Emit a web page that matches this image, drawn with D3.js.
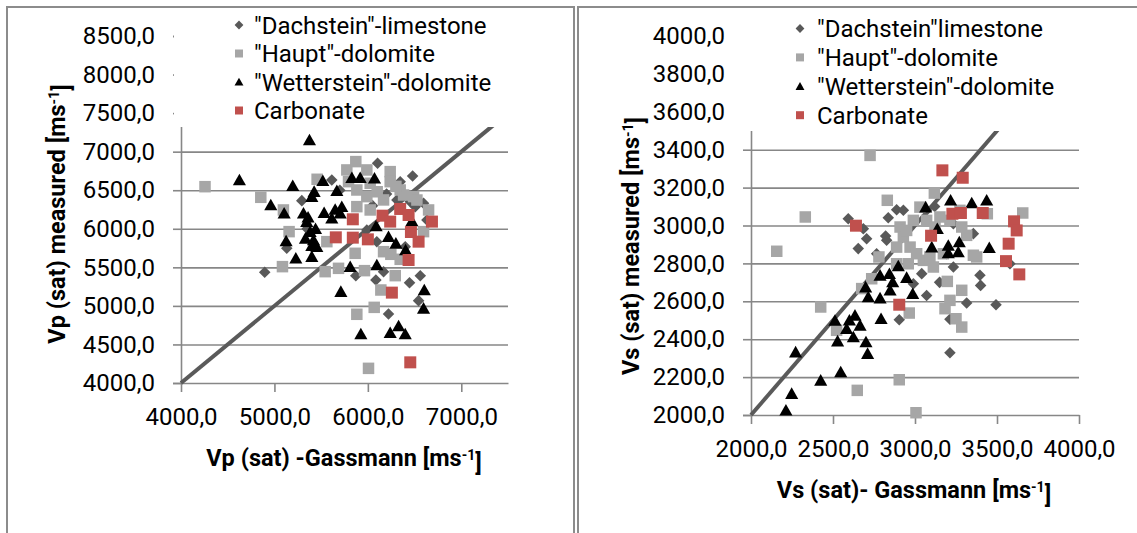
<html>
<script src='https://d3js.org/d3.v7.min.js'></script>
<style>
body {margin:0; background:white;}
text {font-family: Roboto, "Open Sans", sans-serif; fill:#000;}
</style>
<body>
<svg width=1137 height=533></svg>
<script>
// ---- data ----
const seriesNames = ['"Dachstein"-limestone', '"Haupt"-dolomite', '"Wetterstein"-dolomite', 'Carbonate'];
const seriesNamesVs = ['"Dachstein"limestone', '"Haupt"-dolomite', '"Wetterstein"-dolomite', 'Carbonate'];

const vpDach = [[4896,5435],[5293,6365],[5132,5747],[5871,5392],[6086,5336],[6221,4895],[6446,5301],[6561,5392],
  [6543,5068],[6479,6685],[6104,6849],[6346,6611],[6596,6330],[6454,6352],[6168,5444],[6400,5768],[6632,6114],
  [6096,5833],[5614,6633],[5989,5984],[6311,6374],[6507,6287],[5350,6000],[5700,6500],[6200,6450],[6050,6300]];
const vpHaupt = [[4257,6546],[4854,6408],[5096,6244],[5157,5963],[5086,5509],[5457,6642],[5543,5444],[5686,5487],
  [5882,4891],[5964,5457],[6068,4981],[6007,4190],[6139,5206],[6293,5392],[6168,5703],[6246,5669],[6346,5604],
  [5561,5833],[5864,5682],[5775,6763],[5871,6871],[5989,6763],[5793,6611],[5882,6503],[5989,6417],[6025,6590],
  [6239,6741],[6239,6611],[6346,6503],[6382,6438],[6489,6417],[6525,6373],[6650,6244],[6596,5963],[6168,6374],
  [6025,6244],[5882,6287],[6300,6550],[6100,6480]];
const vpWett = [[5375,7152],[4625,6633],[4961,6309],[5104,6201],[5196,6559],[5125,5842],[5229,5617],[5400,5639],
  [5311,6201],[5346,6093],[5382,5963],[5418,5855],[5454,5768],[5400,6417],[5425,6482],[5532,6209],[5518,6624],
  [5668,6494],[5721,6287],[5704,6201],[5614,6136],[5332,5876],[5829,6663],[5918,6663],[6071,6655],[5811,5509],
  [5711,5185],[6096,5530],[6089,6036],[6221,5898],[6300,5811],[6404,5725],[6471,6101],[6604,5206],[6596,4968],
  [5925,4636],[6239,4653],[6329,4739],[6400,4636],[5360,6150],[5440,6000],[5650,6250],[5400,5780]];
const vpCarb = [[5839,6123],[5657,5889],[5839,5885],[6000,5863],[6157,6170],[6239,6093],[6346,6257],[6436,6179],
  [6686,6093],[6461,5958],[6543,5833],[6436,5595],[6257,5172],[6454,4268]];

const vsDach = [[2593,3036],[2685,2983],[2705,2930],[2654,2878],[2821,2944],[2837,3041],[2888,3083],[2929,3080],
  [3213,2329],[3494,2582],[3315,2591],[3396,2737],[3400,2684],[3356,2957],[3071,2631],[2904,2503],[2990,2693],
  [3234,2781],[3193,2851],[3234,3009],[3071,3080],[3041,2746],[3213,2505],[3579,2798],[2766,2851],[2827,2922],
  [3120,3100],[3150,2700]];
const vsHaupt = [[2726,3370],[2331,3045],[2157,2864],[2425,2570],[2831,3133],[3118,3171],[2904,2186],[2648,2130],
  [3006,2012],[3657,3066],[3441,3062],[3285,2658],[3285,2464],[3250,2508],[3197,2705],[3183,2561],[3213,2605],
  [2965,2538],[2736,2719],[2675,2667],[2522,2447],[2780,2834],[2909,2992],[2929,2939],[2990,3027],[2970,2886],
  [3010,2851],[3051,2816],[3091,2834],[3112,2781],[3030,3097],[3071,3027],[3152,3045],[3213,3027],[3285,2992],
  [3315,2948],[3356,2843],[3376,2834],[2888,2886],[2959,2798],[2888,2798],[3173,2851],[3122,2992],[3274,3080],
  [2949,2974]];
const vsWett = [[2213,2025],[2248,2113],[2272,2332],[2425,2183],[2547,2227],[2512,2499],[2528,2390],[2583,2455],
  [2624,2412],[2634,2526],[2665,2473],[2701,2385],[2711,2324],[2600,2500],[2793,2508],[2699,2675],[2715,2623],
  [2787,2617],[2848,2658],[2864,2702],[2787,2737],[2844,2746],[2898,2786],[2949,2725],[2986,2640],[3065,3097],
  [3217,3133],[3346,3119],[3437,3133],[3136,2983],[3102,2886],[3203,2895],[3270,2913],[3264,2860],[3203,2855],
  [3453,2883]];
const vsCarb = [[3167,3291],[3291,3252],[2640,2999],[3098,2946],[3228,3062],[3280,3066],[3413,3066],[3604,3022],
  [3620,2974],[3571,2904],[3555,2812],[3636,2742],[2904,2582]];

const vpXTicks = [4000, 5000, 6000, 7000];
const vpYTicks = [4000, 4500, 5000, 5500, 6000, 6500, 7000, 7500, 8000, 8500];
const vsXTicks = [2000, 2500, 3000, 3500, 4000];
const vsYTicks = [2000, 2200, 2400, 2600, 2800, 3000, 3200, 3400, 3600, 3800, 4000];

// ---- drawing ----
const svg = d3.select('svg');
const fmt = v => d3.format('.1f')(v).replace('.', ',');
const colors = ['#595959', '#a6a6a6', '#000000', '#c0504d'];
const shapes = ['diamond', 'square', 'triangle', 'square'];
const ptSize = [10.5, 11.5, 12.5, 12];

function marker(shape, s) {
  const h = s / 2;
  if (shape == 'diamond') return `M0,${-h*1.1}L${h*1.1},0L0,${h*1.1}L${-h*1.1},0Z`;
  if (shape == 'triangle') return `M0,${-h}L${h*1.05},${h*0.85}L${-h*1.05},${h*0.85}Z`;
  return `M${-h},${-h}H${h}V${h}H${-h}Z`;
}

// panel frames
svg.append('path').attr('d', 'M7,533V7H574V533').attr('fill', 'none').attr('stroke', '#8c8c8c').attr('stroke-width', 2);
svg.append('path').attr('d', 'M578,533V7H1140').attr('fill', 'none').attr('stroke', '#8c8c8c').attr('stroke-width', 2);

function panel(cfg) {
  const x = d3.scaleLinear(cfg.xDomain, cfg.xRange);
  const y = d3.scaleLinear(cfg.yDomain, cfg.yRange);
  const g = svg.append('g');
  const w = cfg.xRange[1] - cfg.xRange[0];

  // gridlines
  g.append('g').attr('transform', `translate(${cfg.xRange[0]},0)`)
    .call(d3.axisLeft(y).tickValues(cfg.yTicks.slice(1)).tickSize(-w).tickFormat(''))
    .call(a => a.select('.domain').remove())
    .selectAll('line').attr('stroke', '#878787').attr('stroke-width', 1.6);

  // axes
  g.append('g').attr('transform', `translate(${cfg.xRange[0]},0)`)
    .call(d3.axisLeft(y).tickValues(cfg.yTicks).tickSize(8).tickPadding(18).tickFormat(fmt))
    .call(a => a.selectAll('line,path').attr('stroke', '#878787').attr('stroke-width', 1.6))
    .selectAll('text').style('font-size', '24px').attr('fill', '#000');
  g.append('g').attr('transform', `translate(0,${cfg.yRange[0]})`)
    .call(d3.axisBottom(x).tickValues(cfg.xTicks).tickSize(9).tickPadding(16).tickSizeOuter(0).tickFormat(fmt))
    .call(a => a.selectAll('line,path').attr('stroke', '#878787').attr('stroke-width', 1.6))
    .selectAll('text').style('font-size', '24px').attr('fill', '#000');

  // 1:1 line
  g.append('line')
    .attr('x1', x(cfg.xDomain[0])).attr('y1', y(cfg.xDomain[0]))
    .attr('x2', x(cfg.xDomain[1])).attr('y2', y(cfg.xDomain[1]))
    .attr('stroke', '#5a5a5a').attr('stroke-width', 4);

  // points
  cfg.series.forEach((pts, i) => {
    g.append('g').selectAll('path').data(pts).enter().append('path')
      .attr('d', marker(shapes[i], ptSize[i]))
      .attr('transform', d => `translate(${x(d[0])},${y(d[1])})`)
      .attr('fill', colors[i]);
  });

  // legend box covers the top of the plot
  g.append('rect').attr('x', cfg.legend.x0).attr('y', 9)
    .attr('width', cfg.xRange[1] + 4 - cfg.legend.x0).attr('height', cfg.legend.bottom - 9).attr('fill', 'white');
  cfg.names.forEach((n, i) => {
    const ly = cfg.legend.top + i * cfg.legend.step;
    g.append('path').attr('d', marker(shapes[i], i == 2 ? 8.5 : 8))
      .attr('transform', `translate(${cfg.legend.mx},${ly})`).attr('fill', colors[i]);
    g.append('text').attr('x', cfg.legend.tx).attr('y', ly).attr('dy', '0.36em')
      .style('font-size', '24px').text(n);
  });

  // axis titles
  const xt = g.append('text').attr('x', cfg.xTitle[0]).attr('y', cfg.xTitle[1]).attr('dy', '0.36em')
    .attr('text-anchor', 'middle').style('font-size', '23.5px').style('font-weight', 'bold');
  xt.append('tspan').text(cfg.xLabel + ' [ms');
  xt.append('tspan').attr('dy', '-0.45em').style('font-size', '14px').text('-1');
  xt.append('tspan').attr('dy', '0.45em').text(']');
  const yt = g.append('text').attr('transform', `translate(${cfg.yTitle[0]},${cfg.yTitle[1]}) rotate(-90)`)
    .attr('dy', '0.36em').attr('text-anchor', 'middle').style('font-size', '23.5px').style('font-weight', 'bold');
  yt.append('tspan').text(cfg.yLabel + ' [ms');
  yt.append('tspan').attr('dy', '-0.45em').style('font-size', '14px').text('-1');
  yt.append('tspan').attr('dy', '0.45em').text(']');
}

panel({
  xDomain: [4000, 7500], xRange: [181, 508],
  yDomain: [4000, 8500], yRange: [383, 36],
  xTicks: vpXTicks, yTicks: vpYTicks,
  series: [vpDach, vpHaupt, vpWett, vpCarb], names: seriesNames,
  legend: {x0: 174, bottom: 127, top: 25, step: 28.5, mx: 239, tx: 254},
  xLabel: 'Vp (sat) -Gassmann', xTitle: [344, 458],
  yLabel: 'Vp (sat) measured', yTitle: [57, 214]
});
panel({
  xDomain: [2000, 4000], xRange: [751, 1079],
  yDomain: [2000, 4000], yRange: [415, 36],
  xTicks: vsXTicks, yTicks: vsYTicks,
  series: [vsDach, vsHaupt, vsWett, vsCarb], names: seriesNamesVs,
  legend: {x0: 741, bottom: 131, top: 28.5, step: 28.9, mx: 800, tx: 817},
  xLabel: 'Vs (sat)- Gassmann', xTitle: [914, 490],
  yLabel: 'Vs (sat) measured', yTitle: [631, 246]
});
</script>
</body>
</html>
